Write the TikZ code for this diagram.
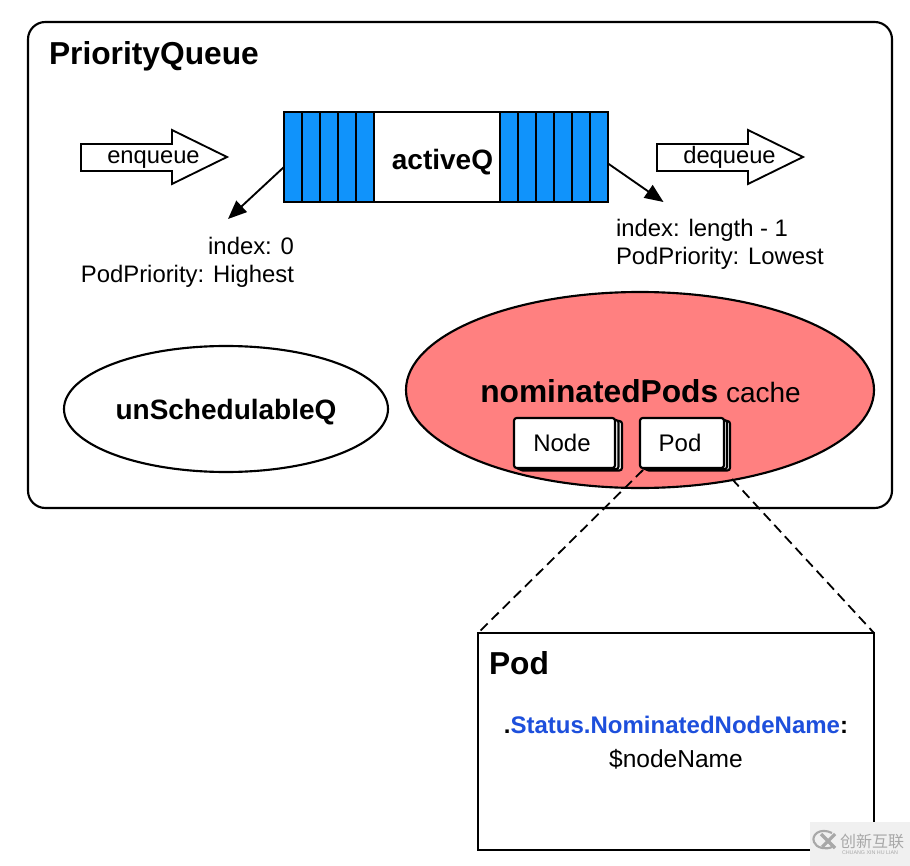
\documentclass[tikz,border=0pt]{standalone}
\usepackage{fontspec}
\setmainfont{Liberation Sans}
\newfontfamily\cjkwm{Noto Sans CJK SC}
\usetikzlibrary{arrows.meta,calc}
\definecolor{qblue}{HTML}{1093FB}
\definecolor{nomred}{HTML}{FF8080}
\definecolor{stblue}{HTML}{1D4FDC}
\definecolor{wmgray}{HTML}{F0F0F0}
\definecolor{wmtext}{HTML}{A8A8A8}
\newcommand{\pxf}[2]{\fontsize{#1}{#2}\selectfont}
\tikzset{
 x=0.75pt,y=-0.75pt,
 ln/.style={draw=black,line width=1.6pt},
 plain/.style={inner sep=0pt,outer sep=0pt,text=black},
 cell/.style={draw=black,line width=1.6pt,fill=qblue},
 bigarrow/.style={draw=black,line width=1.4pt,fill=white,line join=miter},
 card/.style={draw=black,line width=1.6pt,fill=white,rounded corners=2pt,outer sep=0pt},
 ptr/.style={draw=black,line width=1.4pt,-{Triangle[length=14pt,width=11.5pt]}},
 zoomln/.style={draw=black,line width=1.35pt,dash pattern=on 7.5pt off 4.2pt},
 lbl/.style={plain,font=\pxf{17.9}{20.8}},
}
\begin{document}
\begin{tikzpicture}
\useasboundingbox (0,0) rectangle (910,866);
\fill[white] (0,0) rectangle (910,866);
% outer frame
\node[draw=black,line width=1.6pt,rounded corners=13pt,outer sep=0pt,minimum width=864*0.75pt,minimum height=486*0.75pt,inner sep=0pt,anchor=north west] (frame) at (28,22) {};
\node[plain,anchor=base west] (title) at (49,65) {\pxf{23.8}{26}\bfseries PriorityQueue};
% enqueue / dequeue
\draw[bigarrow] (81,144)--(172,144)--(172,130)--(227,157)--(172,184)--(172,171)--(81,171)--cycle;
\node[plain,anchor=base] (enq) at (153.5,164) {\pxf{17.8}{20}enqueue};
\draw[bigarrow] (657,144)--(748,144)--(748,130)--(803,157)--(748,184)--(748,171)--(657,171)--cycle;
\node[plain,anchor=base] (deq) at (729.5,164) {\pxf{17.8}{20}dequeue};
% queue
\node[draw=black,line width=1.6pt,fill=white,outer sep=0pt,minimum width=324*0.75pt,minimum height=90*0.75pt,inner sep=0pt,anchor=north west] (queue) at (284,112) {};
\foreach \a/\b in {284/302,302/320,320/338,338/356,356/374,500/518,518/536,536/554,554/572,572/590,590/608}
  \draw[cell] (\a,112) rectangle (\b,202);
\node[plain,anchor=base] (aq) at (442.5,170) {\pxf{21}{24}\bfseries activeQ};
% pointers
\coordinate (qL) at (284,167);
\coordinate (qR) at (608,163.5);
\node[lbl,align=right,anchor=north east] (lbl0) at (294,237) {index: 0\\PodPriority: Highest};
\node[lbl,align=left,anchor=north west] (lbl1) at (616,219) {index: length - 1\\PodPriority: Lowest};
\coordinate (tipL) at (228,219);
\coordinate (tipR) at (663.5,202);
\draw[ptr] (qL)--(tipL);
\draw[ptr] (qR)--(tipR);
% ellipses
\draw[ln,fill=white] (226,409) ellipse [x radius=162,y radius=63];
\node[plain] (unsch) at (226,412.5) {\pxf{21}{24}\bfseries unSchedulableQ};
\draw[ln,fill=nomred] (640,390) ellipse [x radius=234,y radius=98];
\node[plain,anchor=base] (nom) at (640.5,402) {\pxf{23.8}{26}\bfseries nominatedPods\pxf{21}{24}\mdseries\ cache};
% stacked cards
\draw[card] (520,421) rectangle (622,470.5);
\draw[card] (517,420) rectangle (618.5,469.3);
\node[card,minimum width=101*0.75pt,minimum height=50*0.75pt,inner sep=0pt,anchor=north west] (nodecard) at (514,418) {};
\node[plain,font=\pxf{18}{20},anchor=base] (nodetxt) at (562,451) {Node};
\draw[card] (646,421) rectangle (730,470.5);
\draw[card] (643,420) rectangle (727,469.3);
\node[card,minimum width=84*0.75pt,minimum height=50*0.75pt,inner sep=0pt,anchor=north west] (podcard) at (640,418) {};
\node[plain,font=\pxf{18}{20},anchor=base] (podtxt) at (680,451) {Pod};
% detail box
\node[draw=black,line width=1.6pt,fill=white,outer sep=0pt,minimum width=396*0.75pt,minimum height=217*0.75pt,inner sep=0pt,anchor=north west] (podbox) at (478,633) {};
\node[plain,anchor=base west] (podt) at (489,674) {\pxf{23.8}{26}\bfseries Pod};
\node[plain,anchor=base] (st) at (676,733) {\pxf{18}{20}\bfseries .\textcolor{stblue}{Status.NominatedNodeName}:};
\node[plain,anchor=base] (nn) at (676,767) {\pxf{18.4}{20}\$nodeName};
\draw[zoomln] ($(podcard.south west)+(3,2)$)--(podbox.north west);
\draw[zoomln] ($(podcard.south east)+(8,11)$)--(podbox.north east);
% watermark
\fill[wmgray] (810,822) rectangle (910,866);
\node[plain,text=wmtext,anchor=base west] (wm) at (840,847) {\cjkwm\pxf{12}{14}创新互联};
\node[plain,text=wmtext,anchor=base west] (wms) at (842,854) {\pxf{4}{5}CHUANG XIN HU LIAN};
\draw[wmtext,line width=1.6pt] (832,833) .. controls (820,827) and (811,835) .. (814,842) .. controls (816,848) and (826,850) .. (832,847);
\draw[wmtext,line width=2.4pt] (821,834)--(835,848) (835,834)--(822,847);
\end{tikzpicture}
\end{document}
